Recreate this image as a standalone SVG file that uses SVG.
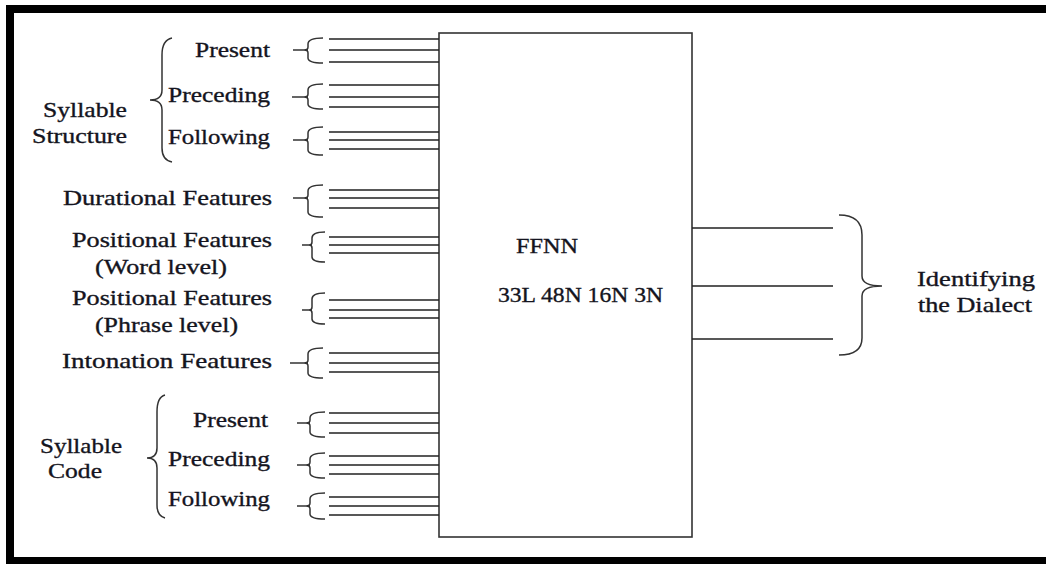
<svg xmlns="http://www.w3.org/2000/svg" width="1046" height="564" viewBox="0 0 1046 564" font-family="'Liberation Serif', 'Times New Roman', serif">
<style>
text{font-family:"Liberation Serif","Times New Roman",serif;font-size:22px;fill:#141420;stroke:#141420;stroke-width:0.35}
.ln{stroke:#222;stroke-width:1.6;fill:none}
.br{stroke:#333;stroke-width:1.5;fill:none}
.box{stroke:#333;stroke-width:1.6;fill:#fff}
</style>
<rect x="0" y="0" width="1046" height="564" fill="#fff"/>
<g id="frame" fill="#000">
<rect x="6" y="5" width="1040" height="8"/>
<rect x="6" y="5" width="8" height="559"/>
<rect x="6" y="557" width="1040" height="7"/>
</g>
<g id="ffnn">
<rect class="box" x="439" y="33" width="253" height="504"/>
<text x="516" y="253" textLength="62" lengthAdjust="spacingAndGlyphs">FFNN</text>
<text x="498" y="302" textLength="165" lengthAdjust="spacingAndGlyphs">33L 48N 16N 3N</text>
</g>
<g id="syllable-structure">
<path class="br" d="M172,38 Q162,40 162,55 L162,90 Q162,100 150,100 Q162,100 162,110 L162,148 Q162,160 172,162"/>
<text x="43" y="117" textLength="84" lengthAdjust="spacingAndGlyphs">Syllable</text>
<text x="32" y="143" textLength="95" lengthAdjust="spacingAndGlyphs">Structure</text>
</g>
<g id="syllable-code">
<path class="br" d="M165,395 Q157,397 157,412 L157,448 Q157,458 147,458 Q157,458 157,468 L157,505 Q157,516 165,518"/>
<text x="40" y="453" textLength="82" lengthAdjust="spacingAndGlyphs">Syllable</text>
<text x="48" y="478" textLength="54" lengthAdjust="spacingAndGlyphs">Code</text>
</g>
<g id="ss-present"><text x="195" y="57" textLength="75" lengthAdjust="spacingAndGlyphs">Present</text></g>
<g id="ss-preceding"><text x="168" y="102" textLength="102" lengthAdjust="spacingAndGlyphs">Preceding</text></g>
<g id="ss-following"><text x="168" y="144" textLength="102" lengthAdjust="spacingAndGlyphs">Following</text></g>
<g id="durational"><text x="63" y="205" textLength="209" lengthAdjust="spacingAndGlyphs">Durational Features</text></g>
<g id="positional-word"><text x="72" y="247" textLength="200" lengthAdjust="spacingAndGlyphs">Positional Features</text><text x="95" y="274" textLength="132" lengthAdjust="spacingAndGlyphs">(Word level)</text></g>
<g id="positional-phrase"><text x="72" y="305" textLength="200" lengthAdjust="spacingAndGlyphs">Positional Features</text><text x="95" y="332" textLength="143" lengthAdjust="spacingAndGlyphs">(Phrase level)</text></g>
<g id="intonation"><text x="62" y="368" textLength="210" lengthAdjust="spacingAndGlyphs">Intonation Features</text></g>
<g id="sc-present"><text x="193" y="427" textLength="75" lengthAdjust="spacingAndGlyphs">Present</text></g>
<g id="sc-preceding"><text x="168" y="466" textLength="102" lengthAdjust="spacingAndGlyphs">Preceding</text></g>
<g id="sc-following"><text x="168" y="506" textLength="102" lengthAdjust="spacingAndGlyphs">Following</text></g>
<g id="output"><text x="917" y="286" textLength="118" lengthAdjust="spacingAndGlyphs">Identifying</text><text x="918" y="312" textLength="114" lengthAdjust="spacingAndGlyphs">the Dialect</text></g>
<g id="connectors">
<path class="br" d="M293,50 H308 M323,38 Q308,38 308,44 L308,47 Q308,50 304,50 Q308,50 308,53 L308,58 Q308,63 323,63"/>
<path class="ln" d="M329,39 H439 M329,50 H439 M329,62 H439"/>
<path class="br" d="M292,97 H308 M323,84 Q308,84 308,90 L308,94 Q308,97 304,97 Q308,97 308,100 L308,104 Q308,109 323,109"/>
<path class="ln" d="M329,85 H439 M329,97 H439 M329,107 H439"/>
<path class="br" d="M293,140 H308 M323,127 Q308,127 308,133 L308,137 Q308,140 304,140 Q308,140 308,143 L308,150 Q308,155 323,155"/>
<path class="ln" d="M329,132 H439 M329,140 H439 M329,149 H439"/>
<path class="br" d="M293,198 H308 M323,185 Q308,185 308,191 L308,195 Q308,198 304,198 Q308,198 308,201 L308,212 Q308,217 323,217"/>
<path class="ln" d="M329,190 H439 M329,198 H439 M329,208 H439"/>
<path class="br" d="M302,245 H312 M325,232 Q312,232 312,238 L312,242 Q312,245 309,245 Q312,245 312,248 L312,257 Q312,262 325,262"/>
<path class="ln" d="M329,237 H439 M329,245 H439 M329,253 H439"/>
<path class="br" d="M302,310 H312 M325,293 Q312,293 312,299 L312,307 Q312,310 309,310 Q312,310 312,313 L312,319 Q312,324 325,324"/>
<path class="ln" d="M329,300 H439 M329,310 H439 M329,318 H439"/>
<path class="br" d="M290,363 H308 M323,348 Q308,348 308,354 L308,360 Q308,363 304,363 Q308,363 308,366 L308,373 Q308,378 323,378"/>
<path class="ln" d="M329,353 H439 M329,363 H439 M329,372 H439"/>
<path class="br" d="M297,423 H310 M325,412 Q310,412 310,418 L310,420 Q310,423 306,423 Q310,423 310,426 L310,432 Q310,437 325,437"/>
<path class="ln" d="M329,413 H439 M329,423 H439 M329,433 H439"/>
<path class="br" d="M297,465 H310 M325,453 Q310,453 310,459 L310,462 Q310,465 306,465 Q310,465 310,468 L310,473 Q310,478 325,478"/>
<path class="ln" d="M329,456 H439 M329,465 H439 M329,474 H439"/>
<path class="br" d="M297,506 H310 M325,493 Q310,493 310,499 L310,503 Q310,506 306,506 Q310,506 310,509 L310,514 Q310,519 325,519"/>
<path class="ln" d="M329,497 H439 M329,506 H439 M329,515 H439"/>
<path class="ln" d="M692,228 H833 M692,286 H833 M692,339 H833"/>
<path class="br" d="M839,215 Q862,215 862,235 L862,276 Q862,286 882,286 Q862,286 862,296 L862,338 Q862,355 839,355"/>
</g>
</svg>
